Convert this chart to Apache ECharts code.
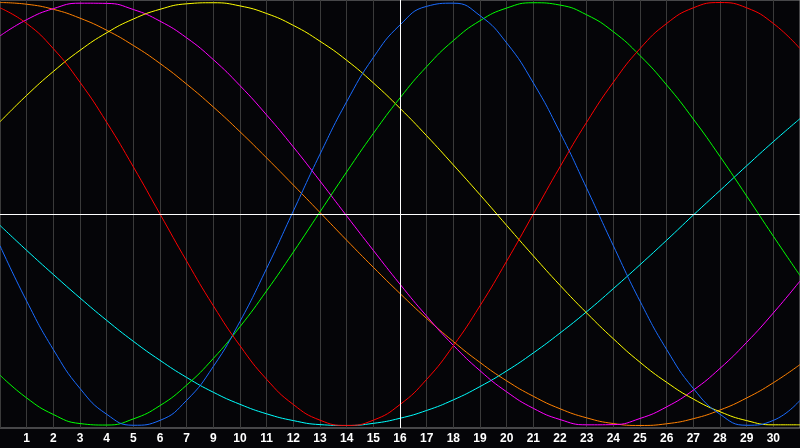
<!DOCTYPE html>
<html>
<head>
<meta charset="utf-8">
<script src="https://cdn.jsdelivr.net/npm/echarts@6/dist/echarts.min.js"></script>
<style>
  html, body { margin: 0; padding: 0; background: #050508; }
  #chart { width: 800px; height: 448px; }
</style>
</head>
<body>
<div id="chart"></div>
<script>
// day positions along the x axis (0 = left edge, 30 = right edge)
var days = [0,1,2,3,4,5,6,7,8,9,10,11,12,13,14,15,16,17,18,19,20,21,22,23,24,25,26,27,28,29,30];
// labels under each grid line (the 8th is skipped in the original)
var dayLabels = ['', '1','2','3','4','5','6','7','9','10','11','12','13','14','15','16','17','18','19','20','21','22','23','24','25','26','27','28','29','30', ''];

var red     = [0.975,0.901,0.782,0.623,0.434,0.223,0,-0.223,-0.434,-0.623,-0.782,-0.901,-0.975,-1,-0.975,-0.901,-0.782,-0.623,-0.434,-0.223,0,0.223,0.434,0.623,0.782,0.901,0.975,1,0.975,0.901,0.782];
var blue    = [-0.150,-0.412,-0.641,-0.825,-0.947,-0.999,-0.976,-0.881,-0.721,-0.508,-0.257,0.014,0.283,0.531,0.740,0.894,0.982,0.997,0.938,0.809,0.620,0.386,0.122,-0.150,-0.412,-0.641,-0.825,-0.947,-0.999,-0.976,-0.881];
var green   = [-0.762,-0.870,-0.948,-0.991,-0.998,-0.969,-0.906,-0.809,-0.683,-0.533,-0.363,-0.180,0.010,0.199,0.381,0.549,0.697,0.820,0.914,0.974,0.999,0.988,0.942,0.862,0.749,0.610,0.449,0.272,0.085,-0.105,-0.291];
var yellow  = [0.436,0.561,0.674,0.774,0.857,0.922,0.968,0.994,0.999,0.984,0.948,0.892,0.817,0.727,0.620,0.500,0.370,0.232,0.091,-0.054,-0.198,-0.337,-0.468,-0.590,-0.701,-0.796,-0.875,-0.935,-0.977,-0.997,-0.997];
var magenta = [0.842,0.919,0.971,0.997,0.996,0.967,0.912,0.833,0.730,0.607,0.468,0.317,0.156,-0.009,-0.172,-0.332,-0.483,-0.621,-0.741,-0.841,-0.919,-0.972,-0.997,-0.996,-0.967,-0.912,-0.833,-0.730,-0.607,-0.468,-0.317];
var orange  = [1.000,0.992,0.968,0.926,0.869,0.797,0.712,0.614,0.506,0.389,0.265,0.137,0.007,-0.124,-0.252,-0.376,-0.494,-0.603,-0.702,-0.789,-0.862,-0.921,-0.964,-0.991,-1.000,-0.992,-0.968,-0.927,-0.870,-0.798,-0.712];
var cyan    = [-0.054,-0.172,-0.286,-0.397,-0.503,-0.602,-0.692,-0.773,-0.843,-0.900,-0.945,-0.977,-0.996,-1.000,-0.990,-0.966,-0.929,-0.879,-0.816,-0.742,-0.657,-0.563,-0.462,-0.353,-0.240,-0.124,-0.005,0.111,0.228,0.342,0.451];

function pairs(vals) {
    return days.map(function (d, i) { return [d, vals[i]]; });
}

function curve(name, vals, color) {
    return {
        name: name,
        type: 'line',
        data: pairs(vals),
        smooth: true,
        showSymbol: false,
        lineStyle: { color: color, width: 1 },
        itemStyle: { color: color },
        z: 3
    };
}

var chart = echarts.init(document.getElementById('chart'));
var option = {
    backgroundColor: '#050508',
    animation: false,
    grid: {
        left: 0,
        right: 0,
        top: 0,
        bottom: 20,
        show: true,
        borderColor: '#8a8a8a',
        borderWidth: 1
    },
    xAxis: {
        type: 'value',
        min: 0,
        max: 30,
        interval: 1,
        axisLine: { show: false },
        axisTick: { show: false },
        splitLine: { show: true, lineStyle: { color: '#3a3a3a', width: 1 } },
        axisLabel: {
            color: '#ffffff',
            fontFamily: 'Liberation Sans',
            fontWeight: 'bold',
            fontSize: 12,
            margin: 5,
            showMinLabel: false,
            showMaxLabel: false,
            formatter: function (v) { return dayLabels[v] || ''; }
        }
    },
    yAxis: {
        type: 'value',
        min: -1.012,
        max: 1.012,
        show: false,
        splitLine: { show: false }
    },
    series: [
        {
            // the white cross through the middle
            type: 'line',
            data: [],
            z: 2,
            markLine: {
                silent: true,
                symbol: 'none',
                label: { show: false },
                lineStyle: { color: '#ffffff', width: 1, type: 'solid' },
                data: [{ xAxis: 15 }, { yAxis: 0 }]
            }
        },
        curve('cyan', cyan, '#00ffff'),
        curve('orange', orange, '#ff8000'),
        curve('magenta', magenta, '#ff00ff'),
        curve('yellow', yellow, '#ffff00'),
        curve('green', green, '#00ff00'),
        curve('blue', blue, '#1a6cff'),
        curve('red', red, '#ff0000')
    ]
};
chart.setOption(option);
</script>
</body>
</html>
